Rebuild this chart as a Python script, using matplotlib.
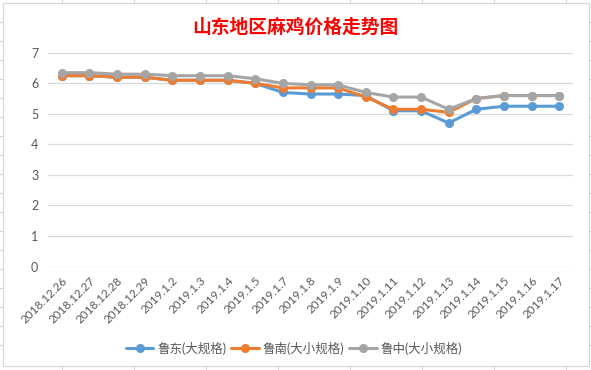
import matplotlib
matplotlib.use("Agg")
import matplotlib.pyplot as plt
from matplotlib.lines import Line2D
from matplotlib.patches import Rectangle

plt.rcParams['font.family'] = ['Lato', 'Noto Sans CJK SC', 'DejaVu Sans']

# 数据
dates = ['2018.12.26', '2018.12.27', '2018.12.28', '2018.12.29', '2019.1.2',
         '2019.1.3', '2019.1.4', '2019.1.5', '2019.1.7', '2019.1.8', '2019.1.9',
         '2019.1.10', '2019.1.11', '2019.1.12', '2019.1.13', '2019.1.14',
         '2019.1.15', '2019.1.16', '2019.1.17']
ludong = [6.25, 6.25, 6.2, 6.2, 6.1, 6.1, 6.1, 6.0, 5.7, 5.65, 5.65,
          5.6, 5.1, 5.1, 4.7, 5.15, 5.25, 5.25, 5.25]
lunan = [6.25, 6.25, 6.2, 6.2, 6.1, 6.1, 6.1, 6.0, 5.85, 5.85, 5.85,
         5.55, 5.15, 5.15, 5.05, 5.5, 5.6, 5.6, 5.6]
luzhong = [6.35, 6.35, 6.3, 6.3, 6.25, 6.25, 6.25, 6.15, 6.0, 5.95, 5.95,
           5.7, 5.55, 5.55, 5.15, 5.5, 5.6, 5.6, 5.6]
names = ['鲁东(大规格)', '鲁南(大小规格)', '鲁中(大小规格)']
colors = ['#5B9BD5', '#ED7D31', '#A5A5A5']

W, H = 591, 370
fig = plt.figure(figsize=(W / 100, H / 100), dpi=100)


def fx(px):
    return px / W


def fy(py):
    return 1 - py / H


# 表格背景的单元格线（图表外）
cell_c = '#d4d4d4'
for x in [61.5, 134, 206, 278, 350, 422, 494, 566]:
    fig.add_artist(Line2D([fx(x), fx(x)], [fy(0), fy(2.5)], color=cell_c, lw=0.8))
    fig.add_artist(Line2D([fx(x), fx(x)], [fy(366), fy(370)], color=cell_c, lw=0.8))
for k in range(18):
    y = 22 + 19 * k
    fig.add_artist(Line2D([fx(0), fx(2.5)], [fy(y), fy(y)], color=cell_c, lw=0.8))
    fig.add_artist(Line2D([fx(589), fx(591)], [fy(y), fy(y)], color=cell_c, lw=0.8))

# 图表边框
fig.add_artist(Rectangle((fx(2.5), fy(366)), fx(589) - fx(2.5), fy(2.5) - fy(366),
                         transform=fig.transFigure, fill=False,
                         edgecolor='#d9d9d9', lw=0.9))

ax = fig.add_axes([fx(48), fy(266.5), fx(573) - fx(48), fy(52.8) - fy(266.5)])

x = range(len(dates))
for vals, name, c in zip([ludong, lunan, luzhong], names, colors):
    ax.plot(x, vals, color=c, lw=2.2, marker='o', markersize=5.5, label=name,
            solid_capstyle='round')

ax.set_xlim(-0.5, len(dates) - 0.5)
ax.set_ylim(0, 7)
ax.set_yticks(range(0, 8))
ax.grid(axis='y', color='#d9d9d9', lw=0.9)
ax.set_axisbelow(True)
for s in ax.spines.values():
    s.set_visible(False)
ax.tick_params(axis='both', length=0, colors='#595959', labelsize=9)
ax.tick_params(axis='y', pad=7)
ax.tick_params(axis='x', pad=6, labelsize=8.5)
ax.set_xticks(list(x))
ax.set_xticklabels(dates, rotation=45, ha='right', rotation_mode='anchor')

fig.text(fx(295.5), fy(27), '山东地区麻鸡价格走势图', color='#FF0000',
         fontsize=13.5, fontweight='bold', ha='center', va='center',
         family=['Noto Sans CJK SC'])

fig.legend(loc='center', bbox_to_anchor=(fx(294), fy(348)), ncol=3,
           frameon=False, fontsize=9, labelcolor='#595959',
           handlelength=2.2, handletextpad=0.3, columnspacing=0.4)

fig.savefig('out.png', dpi=100, facecolor='white')
